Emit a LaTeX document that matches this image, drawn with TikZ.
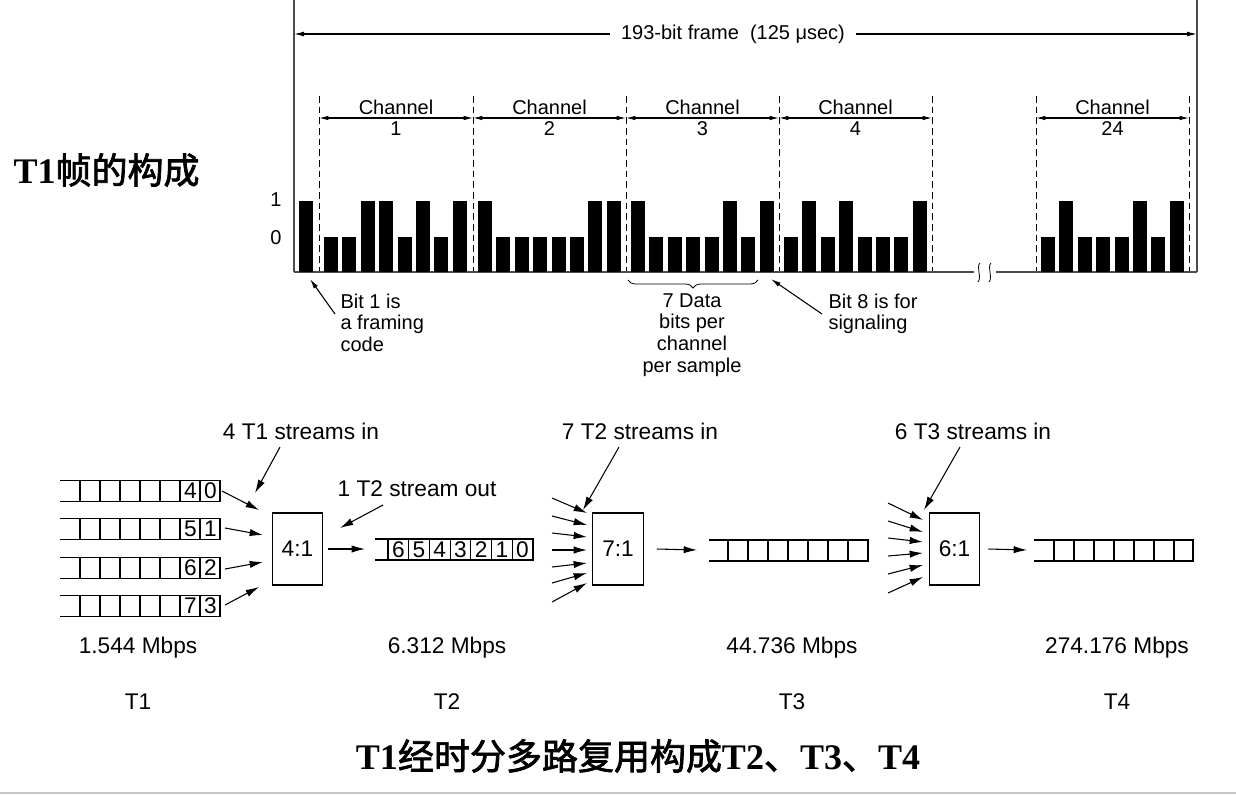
\documentclass[tikz,border=0pt]{standalone}
\usepackage{fontspec}
\setmainfont{Liberation Sans}
\newfontfamily\serifb{Liberation Serif}
\newfontfamily\cjk{Noto Sans CJK SC}[FakeBold=2]
\usetikzlibrary{arrows.meta,decorations.pathreplacing}
\newcommand\fsz[1]{\fontsize{#1}{#1}\selectfont}
\newcommand\tb[1]{{\serifb\bfseries #1}}
\begin{document}
\begin{tikzpicture}[x=0.75pt,y=-0.75pt, line width=0.8pt,
  small/.style={font=\fontsize{15}{16.2}\selectfont, inner sep=0pt},
  big/.style={font=\fsz{17}, inner sep=0pt},
  arr/.style={-{Latex[length=10pt,width=5.5pt]}},
  sarr/.style={-{Latex[length=7.5pt,width=3.6pt]}},
  dsarr/.style={{Latex[length=7pt,width=3.4pt]}-{Latex[length=7pt,width=3.4pt]}},
  muxbox/.style={draw, minimum width=38pt, minimum height=54pt, font=\fsz{17}, inner sep=0pt},
  chdash/.style={dash pattern=on 5pt off 3pt, line width=0.6pt},
  frameline/.style={black!70, line width=1pt},
  ttl/.style={font=\fsz{27}, inner sep=0pt}
]
\useasboundingbox (0,0) rectangle (1236,794);
\fill[white] (0,0) rectangle (1236,794);
\draw[gray!45, line width=1.5pt] (0,792.5) -- (1236,792.5);

% ---------- titles ----------
\node[ttl, anchor=west] (title1) at (13,170) {\tb{T1}\cjk 帧的构成};
\node[ttl] (title2) at (638,756) {\tb{T1}\cjk 经时分多路复用构成\tb{T2}\cjk 、\tb{T3}\cjk 、\tb{T4}};

% ---------- frame ----------
\coordinate (fl) at (294,34);
\coordinate (fr) at (1197,34);
\draw[frameline] (294,0) -- (294,272);
\draw[frameline] (1197,0) -- (1197,272);
\node[small, inner sep=0pt, fill=white, inner xsep=8pt] (frame) at (733,34) {193-bit frame\ \ (125 μsec)};
\draw[sarr] (frame.west) -- (fl);
\draw[sarr] (frame.east) -- (fr);

% channel boundaries
\foreach \x in {319,473,626,779,932,1036,1189}
  \draw[chdash] (\x,96) -- (\x,272);
\foreach \a/\b/\n in {319/473/1,473/626/2,626/779/3,779/932/4,1036/1189/24} {
  \coordinate (ca\n) at (\a,118);
  \coordinate (cb\n) at (\b,118);
  \draw[dsarr] (ca\n) -- (cb\n);
  \node[small] (cht\n) at ({(\a+\b)/2},107) {Channel};
  \node[small] (chn\n) at ({(\a+\b)/2},128.5) {\n};
}

% levels
\node[small] (one) at (276,200) {1};
\node[small] (zero) at (276,238) {0};

% baseline with break
\draw[black!70, line width=0.9pt] (294,272) -- (974,272);
\draw[black!70, line width=0.9pt] (996,272) -- (1197,272);
\draw[line width=0.6pt] (980,263) .. controls (976,266) and (982,278) .. (978,282);
\draw[line width=0.6pt] (991,263) .. controls (987,266) and (993,278) .. (989,282);

% bars
\fill (299,272) rectangle (313,201);
\foreach \c/\pat in {319/{0,0,1,1,0,1,0,1}, 473/{1,0,0,0,0,0,1,1}, 626/{1,0,0,0,0,1,0,1}, 779/{0,1,0,1,0,0,0,1}, 1036/{0,1,0,0,0,1,0,1}} {
  \foreach \b [count=\i from 0] in \pat {
    \fill ({\c+5+18.4*\i},272) rectangle ({\c+19+18.4*\i},{237-36*\b});
  }
}

% annotations
\node[small, anchor=north west, align=left] (bit1) at (340,293) {Bit 1 is\\a framing\\code};
\coordinate (bit1tip) at (310,279);
\draw[sarr] (335,314) -- (bit1tip);
\draw[line width=0.6pt, decorate, decoration={brace, amplitude=6pt, mirror}] (628,280) -- (758,280);
\node[small, anchor=north, align=center] (data7) at (692,293) {7 Data\\bits per\\channel\\per sample};
\node[small, anchor=north west, align=left] (bit8) at (828,293) {Bit 8 is for\\signaling};
\coordinate (bit8tip) at (771,279);
\draw[sarr] (822,314) -- (bit8tip);

% ---------- multiplexing ----------
% T1 rows
\foreach \y/\a/\b in {491/4/0, 529/5/1, 568/6/2, 606/7/3} {
  \draw (60,\y-10.5) -- (220,\y-10.5) -- (220,\y+10.5) -- (60,\y+10.5);
  \foreach \x in {80,100,...,200} \draw (\x,\y-10.5) -- (\x,\y+10.5);
  \node[big] at (190.5,\y) {\a};
  \node[big] at (210.5,\y) {\b};
}
\node[muxbox] (m4) at (297.5,549) {4:1};
\coordinate (s1) at (222,491); \coordinate (e1) at (259,510);
\coordinate (s2) at (225,528); \coordinate (e2) at (263,535);
\coordinate (s3) at (225,569); \coordinate (e3) at (263,562);
\coordinate (s4) at (225,605); \coordinate (e4) at (259,587);
\foreach \k in {1,2,3,4} \draw[arr] (s\k) -- (e\k);

\node[big] (lab4) at (301,431) {4 T1 streams in};
\draw[arr] (280,447) -- (255,493);
\node[big] (lab1) at (417,489) {1 T2 stream out};
\draw[arr] (383,505) -- (340,528);

% T2 stream
\coordinate (o4e) at (365,549);
\draw[arr] (m4.east) ++(5,0) -- (o4e);
\draw (375,539) -- (533,539) -- (533,560) -- (375,560);
\foreach \x in {388,408.7,...,515} \draw (\x,539) -- (\x,560);
\foreach \d [count=\i from 0] in {6,5,4,3,2,1,0}
  \node[big] at ({398.3+20.7*\i},549.5) {\d};

% 7:1
\node[muxbox] (m7) at (618,549) {7:1};
\foreach \sy/\ey [count=\k] in {498/513, 516/525, 533/537, 550/550, 567/563, 583/573, 602/583}
  \draw[arr] (552,\sy) -- (587,\ey);
\node[big] (lab7) at (640,431) {7 T2 streams in};
\draw[arr] (619,447) -- (583,510);
\coordinate (o7e) at (697,550);
\draw[arr] (m7.east) ++(13,0) -- (o7e);
\draw (709,540) -- (868,540) -- (868,561) -- (709,561);
\foreach \x in {728,748,...,850} \draw (\x,540) -- (\x,561);

% 6:1
\node[muxbox] (m6) at (954.5,549) {6:1};
\foreach \sy/\ey in {503/520, 521/532, 538/542, 556/553, 574/565, 593/577}
  \draw[arr] (888,\sy) -- (923,\ey);
\node[big] (lab6) at (973,431) {6 T3 streams in};
\draw[arr] (960,447) -- (924,510);
\coordinate (o6e) at (1027,550);
\draw[arr] (m6.east) ++(8,0) -- (o6e);
\draw (1034,540) -- (1193,540) -- (1193,561) -- (1034,561);
\foreach \x in {1054,1074,...,1180} \draw (\x,540) -- (\x,561);

% rates and names
\foreach \x/\r/\t in {138/1.544 Mbps/T1, 447/6.312 Mbps/T2, 792/44.736 Mbps/T3, 1117/274.176 Mbps/T4} {
  \node[big] at (\x,648) {\r};
  \node[big] at (\x,702) {\t};
}
\end{tikzpicture}
\end{document}
